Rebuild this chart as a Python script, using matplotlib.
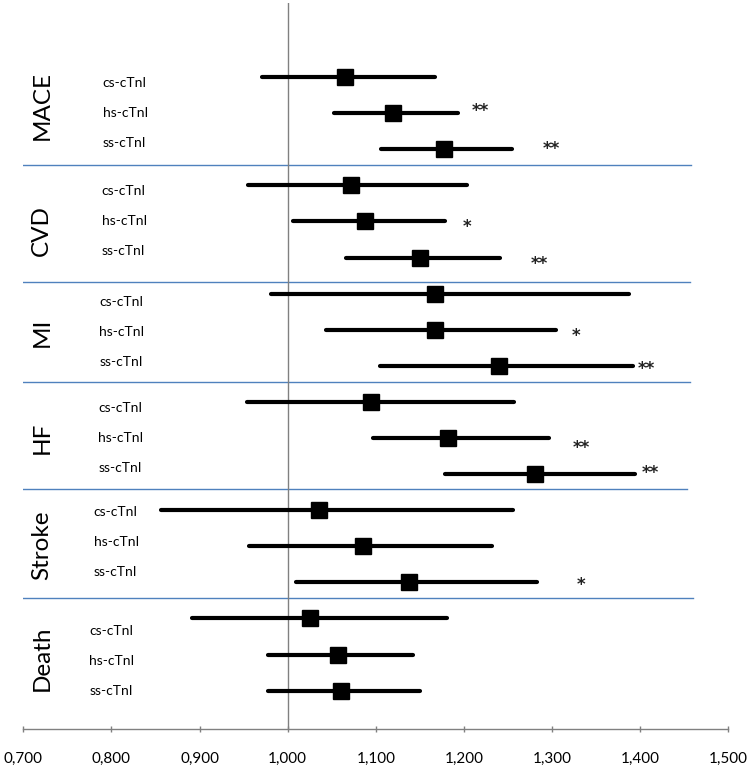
import matplotlib
matplotlib.use("Agg")
import matplotlib.pyplot as plt
import numpy as np

plt.rcParams['font.family'] = ['Lato', 'DejaVu Sans']

groups = ["MACE", "CVD", "MI", "HF", "Stroke", "Death"]
assays = ["cs-cTnI", "hs-cTnI", "ss-cTnI"]

# estimates (hazard ratio) and CI per group, in order cs, hs, ss
est = [1.065, 1.120, 1.177,
       1.072, 1.088, 1.150,
       1.167, 1.167, 1.240,
       1.095, 1.182, 1.281,
       1.036, 1.085, 1.138,
       1.025, 1.057, 1.060]
lo = [0.971, 1.053, 1.106,
      0.955, 1.006, 1.066,
      0.981, 1.044, 1.105,
      0.954, 1.097, 1.178,
      0.856, 0.956, 1.010,
      0.891, 0.978, 0.978]
hi = [1.167, 1.193, 1.254,
      1.203, 1.178, 1.241,
      1.387, 1.305, 1.392,
      1.257, 1.297, 1.394,
      1.256, 1.232, 1.283,
      1.181, 1.142, 1.150]
stars = ["", "**", "**",
         "", "*", "**",
         "", "*", "**",
         "", "**", "**",
         "", "", "*",
         "", "", ""]
star_x = [0, 1.219, 1.299,
          0, 1.203, 1.286,
          0, 1.327, 1.407,
          0, 1.333, 1.411,
          0, 0, 1.333,
          0, 0, 0]
xticks = [0.7, 0.8, 0.9, 1.0, 1.1, 1.2, 1.3, 1.4, 1.5]

fig = plt.figure(figsize=(7.51, 7.67), dpi=100)
ax = fig.add_axes([23.3/751, 37.7/767, 705/751, 726.3/767])

rows = np.arange(len(est))
# separators
sep_rows = [2.44, 5.69, 8.46, 11.42, 14.44]
sep_end = [1.458, 1.456, 1.457, 1.453, 1.460]
for s, e in zip(sep_rows, sep_end):
    ax.plot([0.698, e], [s, s], color='#4f81bd', lw=1.0, zorder=1)

ax.axvline(1.0, color='#808080', lw=1.0, zorder=1)

for i in rows:
    ax.plot([lo[i], hi[i]], [i, i], color='black', lw=3.0,
            solid_capstyle='round', zorder=3)
ax.plot(est, rows, linestyle='none', marker='s', markersize=11,
        color='black', zorder=4)

star_dy = [0, -0.17, -0.11, 0, 0.05, 0.08, 0, 0.08, -0.02,
           0, 0.17, -0.14, 0, 0, -0.03, 0, 0, 0]
for i in rows:
    if stars[i]:
        ax.text(star_x[i], i + star_dy[i] + 0.1, stars[i], ha='center',
                va='center', fontsize=12, fontweight='bold', color='#222222',
                family='DejaVu Sans')

# group labels
grp_y = [0.78, 4.24, 7.06, 10.0, 12.96, 16.1]
for g, name in enumerate(groups):
    ax.text(0.721, grp_y[g], name, rotation=90, ha='center', va='center',
            fontsize=17.5, color='black')

lab_shift = [0.0, 0.0, 0.06, 0.0, -0.12, 0.18]
lab_x = [0.790, 0.789, 0.786, 0.785, 0.780, 0.775]
for g in range(len(groups)):
    for k, a in enumerate(assays):
        ax.text(lab_x[g], 3*g + 1 + (k-1)*0.83 + lab_shift[g], a,
                ha='left', va='center', fontsize=10, color='black')

ax.set_xlim(0.7, 1.5)
ax.set_ylim((729.3-77)/36.1, (3-77)/36.1)
ax.set_xticks(xticks)
ax.set_xticklabels([f"{t:.3f}".replace('.', ',') for t in xticks],
                   fontsize=11)
ax.tick_params(axis='x', direction='inout', length=5, color='#808080',
               pad=14, width=1)
ax.set_yticks([])
for sp in ['top', 'right', 'left']:
    ax.spines[sp].set_visible(False)
ax.spines['bottom'].set_color('#808080')
ax.spines['bottom'].set_linewidth(1.0)

fig.savefig("out.png", dpi=100)
